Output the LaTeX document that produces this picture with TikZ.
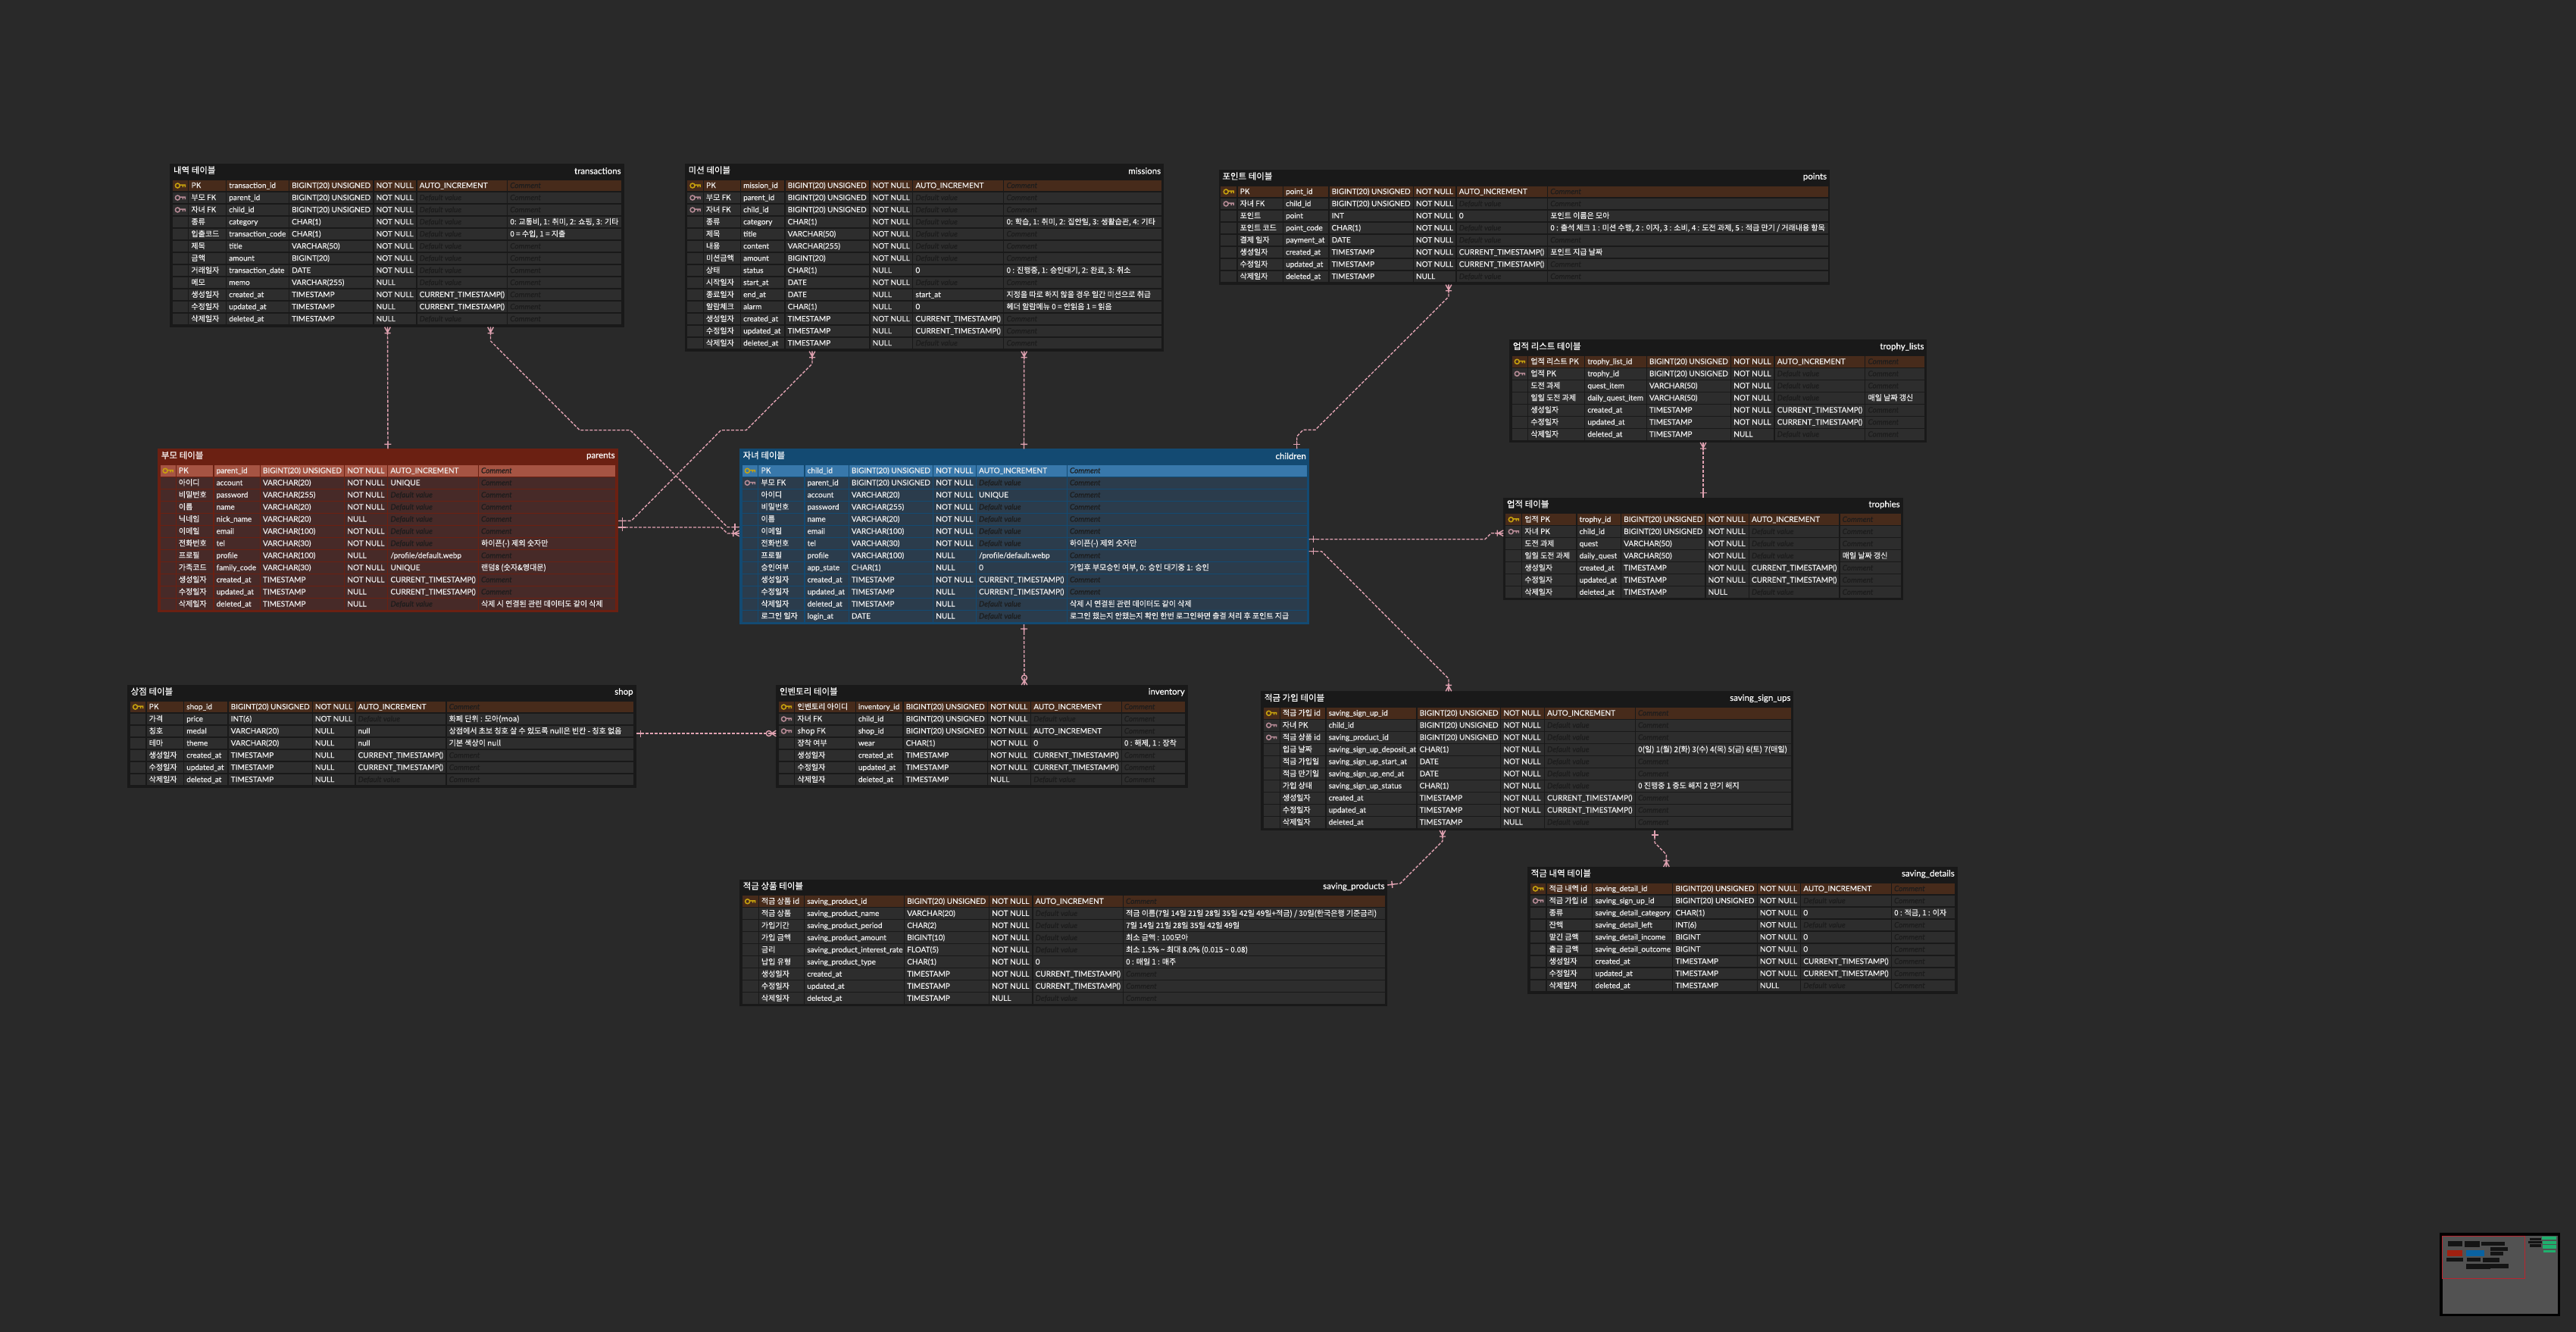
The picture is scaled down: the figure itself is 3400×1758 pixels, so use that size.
\documentclass[tikz,border=0pt]{standalone}
\usepackage{fontspec}
\setmainfont[FakeBold=0.3]{Lato}
\newfontfamily\cjk[FakeBold=0.3]{Noto Sans CJK KR}
\usetikzlibrary{decorations.markings}

\definecolor{bgcol}{HTML}{292929}
\definecolor{darkout}{HTML}{191919}
\definecolor{darkpk}{HTML}{472B1B}
\definecolor{darkrow}{HTML}{2D2D2D}
\definecolor{redout}{HTML}{6B2012}
\definecolor{redpk}{HTML}{A65443}
\definecolor{redrow}{HTML}{472A28}
\definecolor{blueout}{HTML}{134A72}
\definecolor{bluepk}{HTML}{3878AB}
\definecolor{bluerow}{HTML}{2B3C4C}
\definecolor{holdcol}{HTML}{1C1C1C}
\definecolor{textcol}{HTML}{F0F0F0}
\definecolor{relpink}{HTML}{E0A2B1}
\definecolor{pkgold}{HTML}{C9A30D}
\definecolor{fkpink}{HTML}{B88C97}
\definecolor{mapred}{HTML}{A02010}
\definecolor{mapblue}{HTML}{0A62A0}
\definecolor{mapgreen}{HTML}{1FB06E}
\definecolor{mapframe}{HTML}{B8252F}
\definecolor{mapblock}{HTML}{141414}

\newcommand{\crowmark}{\draw[solid,relpink] (0,-3.8) -- (7,0) -- (0,3.8) (0,0) -- (11,0) (8,-4) -- (8,4);}
\newcommand{\optmark}{\draw[solid,relpink] (0,-3.8) -- (6,0) -- (0,3.8) (0,0) -- (6,0) (9.5,0) circle (3.5);}
\newcommand{\barmark}{\draw[solid,relpink] (-10,0) -- (0,0) (-6,-4.5) -- (-6,4.5);}

\tikzset{
  relline/.style={draw=relpink,line width=1.4pt,dash pattern=on 4pt off 2pt},
  rel/.style={relline,postaction={decorate,decoration={markings,
    mark=at position 0pt with {\crowmark},mark=at position 1 with {\barmark}}}},
  relopt/.style={relline,postaction={decorate,decoration={markings,
    mark=at position 0pt with {\optmark},mark=at position 1 with {\barmark}}}},
  tablebox/.style={rectangle,inner sep=0pt,outer sep=0pt,anchor=north west},
  celltext/.style={anchor=base west,inner sep=0pt,text=textcol,font=\fontsize{10}{12}\selectfont},
  krtext/.style={celltext,font=\fontsize{10}{12}\selectfont\cjk},
  holdertext/.style={celltext,text=holdcol,font=\fontsize{10}{12}\selectfont\itshape},
  titletext/.style={inner sep=0pt,text=white,font=\fontsize{11.5}{14}\selectfont}
}

\newcommand{\keyicon}[3]{%
  \draw[#3,line width=1.5pt] (#1-3.5,#2) circle (3)
    (#1-0.5,#2-0.8) -- (#1+6.5,#2-0.8) -- (#1+6.5,#2+2) (#1+3.5,#2-0.8) -- (#1+3.5,#2+2);}

\catcode`\_=12
\def\nodash{-}
\def\keyp{p}
\def\keyf{f}
\newcommand{\bigu}{BIGINT(20) UNSIGNED}
\newcommand{\nn}{NOT NULL}
\newcommand{\ts}{TIMESTAMP}
\newcommand{\cts}{CURRENT_TIMESTAMP()}
\newcommand{\ai}{AUTO_INCREMENT}

% id, colours, title, x0/y0/x1/rows, column edges, rows
\newcommand{\ertable}[6]{%
  \colorlet{outcol}{#2out}\colorlet{pkcol}{#2pk}\colorlet{rowcol}{#2row}
  \foreach \xo/\yo/\xe/\nrows in {#4} {
    \pgfmathsetmacro\tbw{\xe-\xo}
    \pgfmathsetmacro\tbh{23.7+16*\nrows}
    \node[tablebox,fill=outcol,minimum width=\tbw pt,minimum height=\tbh pt] (#1) at (\xo,\yo) {};
    \node[titletext,anchor=west,font=\fontsize{11.5}{14}\selectfont\cjk] (#1-title) at (\xo+4.5,\yo+8.5) {#3};
    \node[titletext,anchor=east] (#1-name) at (\xe-3.7,\yo+9.5) {#1};
    \foreach \xa/\xb/\xc/\xd/\xf/\xg/\xh/\xi in {#5} {
      \pgfmathsetmacro\keyx{(\xa+\xb)/2}
      \foreach \colkey/\colkr/\colen/\coltype/\colnull/\coldef/\colcom [count=\rowno] in {#6} {
        \pgfmathsetmacro\yr{\yo+5.7+16*\rowno}
        \ifnum\rowno=1 \colorlet{cellcol}{pkcol}\else \colorlet{cellcol}{rowcol}\fi
        \foreach \xl/\xr in {\xa/\xb,\xb/\xc,\xc/\xd,\xd/\xf,\xf/\xg,\xg/\xh,\xh/\xi}
          \fill[cellcol] (\xl+0.65,\yr) rectangle (\xr-0.65,\yr+14.7);
        \ifx\colkey\keyp \keyicon{\keyx}{\yr+7.3}{pkgold}\fi
        \ifx\colkey\keyf \keyicon{\keyx}{\yr+7.3}{fkpink}\fi
        \node[krtext] (#1-\rowno-kr) at (\xb+3.5,\yr+10.5) {\colkr};
        \node[celltext] (#1-\rowno-en) at (\xc+3.5,\yr+10.5) {\colen};
        \node[celltext] (#1-\rowno-type) at (\xd+3.5,\yr+10.5) {\coltype};
        \node[celltext] (#1-\rowno-null) at (\xf+3.5,\yr+10.5) {\colnull};
        \ifx\coldef\nodash
          \node[holdertext] (#1-\rowno-def) at (\xg+3.5,\yr+10.5) {Default value};
        \else
          \node[celltext] (#1-\rowno-def) at (\xg+3.5,\yr+10.5) {\coldef};
        \fi
        \ifx\colcom\nodash
          \node[holdertext] (#1-\rowno-com) at (\xh+3.5,\yr+10.5) {Comment};
        \else
          \node[krtext] (#1-\rowno-com) at (\xh+3.5,\yr+10.5) {\colcom};
        \fi
      }
    }
  }
}

\begin{document}
\begin{tikzpicture}[x=1pt,y=-1pt]
\useasboundingbox[fill=bgcol] (0,0) rectangle (3400,1758);

\ertable{transactions}{dark}{내역 테이블}{224.3/216/823.5/12}
  {227/248.8/298.6/381.4/492.9/550/669.6/821}
  {p/PK/transaction_id/\bigu/\nn/\ai/-,
   f/부모 FK/parent_id/\bigu/\nn/-/-,
   f/자녀 FK/child_id/\bigu/\nn/-/-,
   n/종류/category/CHAR(1)/\nn/-/{0: 교통비, 1: 취미, 2: 쇼핑, 3: 기타},
   n/입출코드/transaction_code/CHAR(1)/\nn/-/{0 = 수입, 1 = 지출},
   n/제목/title/VARCHAR(50)/\nn/-/-,
   n/금액/amount/BIGINT(20)/\nn/-/-,
   n/거래일자/transaction_date/DATE/\nn/-/-,
   n/메모/memo/VARCHAR(255)/NULL/-/-,
   n/생성일자/created_at/\ts/\nn/\cts/-,
   n/수정일자/updated_at/\ts/NULL/\cts/-,
   n/삭제일자/deleted_at/\ts/NULL/-/-}

\ertable{missions}{dark}{미션 테이블}{903.9/216/1536/14}
  {906.8/928.3/977.5/1036/1148/1204.8/1324.8/1534}
  {p/PK/mission_id/\bigu/\nn/\ai/-,
   f/부모 FK/parent_id/\bigu/\nn/-/-,
   f/자녀 FK/child_id/\bigu/\nn/-/-,
   n/종류/category/CHAR(1)/\nn/-/{0: 학습, 1: 취미, 2: 집안일, 3: 생활습관, 4: 기타},
   n/제목/title/VARCHAR(50)/\nn/-/-,
   n/내용/content/VARCHAR(255)/\nn/-/-,
   n/미션금액/amount/BIGINT(20)/\nn/-/-,
   n/상태/status/CHAR(1)/NULL/0/{0 : 진행중, 1: 승인대기, 2: 완료, 3: 취소},
   n/시작일자/start_at/DATE/\nn/-/-,
   n/종료일자/end_at/DATE/NULL/start_at/지정을 따로 하지 않을 경우 일간 미션으로 취급,
   n/알람체크/alarm/CHAR(1)/NULL/0/헤더 알람메뉴 0 = 안읽음 1 = 읽음,
   n/생성일자/created_at/\ts/\nn/\cts/-,
   n/수정일자/updated_at/\ts/NULL/\cts/-,
   n/삭제일자/deleted_at/\ts/NULL/-/-}

\ertable{points}{dark}{포인트 테이블}{1608.7/224/2414.9/8}
  {1610.4/1632.9/1693.4/1753.9/1865.3/1922.1/2042.6/2413.2}
  {p/PK/point_id/\bigu/\nn/\ai/-,
   f/자녀 FK/child_id/\bigu/\nn/-/-,
   n/포인트/point/INT/\nn/0/포인트 이름은 모아,
   n/포인트 코드/point_code/CHAR(1)/\nn/-/{0 : 출석 체크 1 : 미션 수행, 2 : 이자, 3 : 소비, 4 : 도전 과제, 5 : 적금 만기 / 거래내용 항목},
   n/결제 일자/payment_at/DATE/\nn/-/-,
   n/생성일자/created_at/\ts/\nn/\cts/포인트 지급 날짜,
   n/수정일자/updated_at/\ts/\nn/\cts/-,
   n/삭제일자/deleted_at/\ts/NULL/-/-}

\ertable{trophy_lists}{dark}{업적 리스트 테이블}{1992.2/448.3/2543.3/7}
  {1994.9/2016.7/2091.7/2173.2/2284.6/2342/2461.8/2541}
  {p/업적 리스트 PK/trophy_list_id/\bigu/\nn/\ai/-,
   f/업적 PK/trophy_id/\bigu/\nn/-/-,
   n/도전 과제/quest_item/VARCHAR(50)/\nn/-/-,
   n/일일 도전 과제/daily_quest_item/VARCHAR(50)/\nn/-/매일 날짜 갱신,
   n/생성일자/created_at/\ts/\nn/\cts/-,
   n/수정일자/updated_at/\ts/\nn/\cts/-,
   n/삭제일자/deleted_at/\ts/NULL/-/-}

\ertable{trophies}{dark}{업적 테이블}{1984.2/656.7/2511.5/7}
  {1986.8/2008.7/2081/2139.5/2250.9/2308.3/2428/2509.2}
  {p/업적 PK/trophy_id/\bigu/\nn/\ai/-,
   f/자녀 PK/child_id/\bigu/\nn/-/-,
   n/도전 과제/quest/VARCHAR(50)/\nn/-/-,
   n/일일 도전 과제/daily_quest/VARCHAR(50)/\nn/-/매일 날짜 갱신,
   n/생성일자/created_at/\ts/\nn/\cts/-,
   n/수정일자/updated_at/\ts/\nn/\cts/-,
   n/삭제일자/deleted_at/\ts/NULL/-/-}

\ertable{parents}{red}{부모 테이블}{208.2/592.3/815.5/12}
  {211/232.2/282/343.3/454.7/511.8/631.4/813}
  {p/PK/parent_id/\bigu/\nn/\ai/-,
   n/아이디/account/VARCHAR(20)/\nn/UNIQUE/-,
   n/비밀번호/password/VARCHAR(255)/\nn/-/-,
   n/이름/name/VARCHAR(20)/\nn/-/-,
   n/닉네임/nick_name/VARCHAR(20)/NULL/-/-,
   n/이메일/email/VARCHAR(100)/\nn/-/-,
   n/전화번호/tel/VARCHAR(30)/\nn/-/하이픈(-) 제외 숫자만,
   n/프로필/profile/VARCHAR(100)/NULL/{/profile/default.webp}/-,
   n/가족코드/family_code/VARCHAR(30)/\nn/UNIQUE/랜덤8 (숫자\&영대문),
   n/생성일자/created_at/\ts/\nn/\cts/-,
   n/수정일자/updated_at/\ts/NULL/\cts/-,
   n/삭제일자/deleted_at/\ts/NULL/-/삭제 시 연결된 관련 데이터도 같이 삭제}

\ertable{children}{blue}{자녀 테이블}{975.9/592.3/1727.7/13}
  {978.9/1000.8/1062/1120.2/1231.6/1288.4/1408.3/1725.2}
  {p/PK/child_id/\bigu/\nn/\ai/-,
   f/부모 FK/parent_id/\bigu/\nn/-/-,
   n/아이디/account/VARCHAR(20)/\nn/UNIQUE/-,
   n/비밀번호/password/VARCHAR(255)/\nn/-/-,
   n/이름/name/VARCHAR(20)/\nn/-/-,
   n/이메일/email/VARCHAR(100)/\nn/-/-,
   n/전화번호/tel/VARCHAR(30)/\nn/-/하이픈(-) 제외 숫자만,
   n/프로필/profile/VARCHAR(100)/NULL/{/profile/default.webp}/-,
   n/승인여부/app_state/CHAR(1)/NULL/0/{가입후 부모승인 여부, 0: 승인 대기중 1: 승인},
   n/생성일자/created_at/\ts/\nn/\cts/-,
   n/수정일자/updated_at/\ts/NULL/\cts/-,
   n/삭제일자/deleted_at/\ts/NULL/-/삭제 시 연결된 관련 데이터도 같이 삭제,
   n/로그인 일자/login_at/DATE/NULL/-/로그인 했는지 안했는지 확인 한번 로그인하면 출결 처리 후 포인트 지급}

\ertable{shop}{dark}{상점 테이블}{168/904/839.5/7}
  {171.2/193/242.6/301/412.2/468.9/589/836.8}
  {p/PK/shop_id/\bigu/\nn/\ai/-,
   n/가격/price/INT(6)/\nn/-/화폐 단위 : 모아(moa),
   n/칭호/medal/VARCHAR(20)/NULL/null/상점에서 초보 칭호 살 수 있도록 null은 빈칸 - 칭호 없음,
   n/테마/theme/VARCHAR(20)/NULL/null/기본 색상이 null,
   n/생성일자/created_at/\ts/NULL/\cts/-,
   n/수정일자/updated_at/\ts/NULL/\cts/-,
   n/삭제일자/deleted_at/\ts/NULL/-/-}

\ertable{inventory}{dark}{인벤토리 테이블}{1024.3/904/1567.6/7}
  {1027.1/1048.8/1129.2/1192/1303.5/1360.6/1480.2/1565.1}
  {p/인벤토리 아이디/inventory_id/\bigu/\nn/\ai/-,
   f/자녀 FK/child_id/\bigu/\nn/-/-,
   f/shop FK/shop_id/\bigu/\nn/\ai/-,
   n/장착 여부/wear/CHAR(1)/\nn/0/{0 : 해제, 1 : 장착},
   n/생성일자/created_at/\ts/\nn/\cts/-,
   n/수정일자/updated_at/\ts/\nn/\cts/-,
   n/삭제일자/deleted_at/\ts/NULL/-/-}

\ertable{saving_sign_ups}{dark}{적금 가입 테이블}{1664.2/912.3/2367.3/10}
  {1667/1689.2/1750/1869.9/1980.8/2038.4/2158.3/2365}
  {p/적금 가입 id/saving_sign_up_id/\bigu/\nn/\ai/-,
   f/자녀 PK/child_id/\bigu/\nn/-/-,
   f/적금 상품 id/saving_product_id/\bigu/\nn/-/-,
   n/입금 날짜/saving_sign_up_deposit_at/CHAR(1)/\nn/-/0(일) 1(월) 2(화) 3(수) 4(목) 5(금) 6(토) 7(매일),
   n/적금 가입일/saving_sign_up_start_at/DATE/\nn/-/-,
   n/적금 만기일/saving_sign_up_end_at/DATE/\nn/-/-,
   n/가입 상태/saving_sign_up_status/CHAR(1)/\nn/-/0 진행중 1 중도 해지 2 만기 해지,
   n/생성일자/created_at/\ts/\nn/\cts/-,
   n/수정일자/updated_at/\ts/\nn/\cts/-,
   n/삭제일자/deleted_at/\ts/NULL/-/-}

\ertable{saving_products}{dark}{적금 상품 테이블}{976.1/1160.7/1831.4/9}
  {978.9/1001.3/1061.6/1193.6/1305.6/1363/1482.4/1828.5}
  {p/적금 상품 id/saving_product_id/\bigu/\nn/\ai/-,
   n/적금 상품/saving_product_name/VARCHAR(20)/\nn/-/{적금 이름(7일 14일 21일 28일 35일 42일 49일+적금) / 30일(한국은행 기준금리)},
   n/가입기간/saving_product_period/CHAR(2)/\nn/-/7일 14일 21일 28일 35일 42일 49일,
   n/가입 금액/saving_product_amount/BIGINT(10)/\nn/-/최소 금액 : 100모아,
   n/금리/saving_product_interest_rate/FLOAT(5)/\nn/-/최소 1.5\% \textasciitilde{} 최대 8.0\% (0.015 \textasciitilde{} 0.08),
   n/납입 유형/saving_product_type/CHAR(1)/\nn/0/0 : 매일 1 : 매주,
   n/생성일자/created_at/\ts/\nn/\cts/-,
   n/수정일자/updated_at/\ts/\nn/\cts/-,
   n/삭제일자/deleted_at/\ts/NULL/-/-}

\ertable{saving_details}{dark}{적금 내역 테이블}{2016.1/1144/2583.6/9}
  {2019.1/2041/2101.8/2207.8/2319.2/2376.6/2496.4/2581}
  {p/적금 내역 id/saving_detail_id/\bigu/\nn/\ai/-,
   f/적금 가입 id/saving_sign_up_id/\bigu/\nn/-/-,
   n/종류/saving_detail_category/CHAR(1)/\nn/0/{0 : 적금, 1 : 이자},
   n/잔액/saving_detail_left/INT(6)/\nn/-/-,
   n/맡긴 금액/saving_detail_income/BIGINT/\nn/0/-,
   n/출금 금액/saving_detail_outcome/BIGINT/\nn/0/-,
   n/생성일자/created_at/\ts/\nn/\cts/-,
   n/수정일자/updated_at/\ts/\nn/\cts/-,
   n/삭제일자/deleted_at/\ts/NULL/-/-}

\draw[rel] ([xshift=287.2pt]transactions.south west) -- ([xshift=303.8pt]parents.north west);
\draw[rel] ([xshift=423.2pt]transactions.south west) -- (647.5,450) -- (765,567.7) -- (831.7,567.7)
    -- (960,695.7) -- ([yshift=-103.4pt]children.north west);
\draw[rel] ([xshift=168.1pt]missions.south west) -- (1072,480) -- (985,567.7) -- (951.7,567.7)
    -- (833.3,687.3) -- ([yshift=-95pt]parents.north east);
\draw[rel] ([xshift=447.8pt]missions.south west) -- ([xshift=375.6pt]children.north west);
\draw[rel] ([xshift=303.3pt]points.south west) -- (1912,391.7) -- (1736,567.3) -- (1720,567.3)
    -- (1711.7,576) -- ([xshift=735.8pt]children.north west);
\draw[rel] ([yshift=-111.7pt]children.north west) -- (960,704) -- (951.7,696)
    -- ([yshift=-103.7pt]parents.north east);
\draw[rel] ([xshift=255.8pt]trophy_lists.south west) -- ([xshift=263.8pt]trophies.north west);
\draw[rel] ([yshift=-47pt]trophies.north west) -- (1968.3,703.7) -- (1960,711.7)
    -- ([yshift=-119.4pt]children.north east);
\draw[rel] ([xshift=247.8pt]saving_sign_ups.north west) -- (1912,895.7) -- (1744.3,727.7)
    -- ([yshift=-135.4pt]children.north east);
\draw[relopt] ([xshift=327.7pt]inventory.north west) -- ([xshift=375.6pt]children.south west);
\draw[relopt] ([yshift=-64pt]inventory.north west) -- ([yshift=-64pt]shop.north east);
\draw[rel] ([xshift=239.8pt]saving_sign_ups.south west) -- (1904,1110) -- (1848,1166)
    -- ([yshift=-7.3pt]saving_products.north east);
\draw[rel] ([xshift=183.3pt]saving_details.north west) -- (2199.4,1128) -- (2184,1112)
    -- ([xshift=519.8pt]saving_sign_ups.south west);

\begin{scope}[shift={(3200,1610)},x=0.3333pt,y=-0.3333pt]
  \fill[black] (60,52) rectangle (538,382);
  \fill[black!68!white] (72,64) rectangle (528,372);
  \foreach \xa/\ya/\xb/\yb in {92/84/150/106,158/84/218/108,225/86/317/101,262/107/329/122,
      261/127/311/140,87/151/152/164,169/150/222/164,230/151/297/169,164/175/261/194,
      262/174/333/192,416/71/462/80,412/83/465/94,417/97/462/109}
    \fill[mapblock] (\xa,\ya) rectangle (\xb,\yb);
  \fill[mapred] (91,120) rectangle (150,143);
  \fill[mapblue] (165,120) rectangle (237,144);
  \foreach \xa/\ya/\xb/\yb in {466/67/523/77,469/83/522/95,469/100/522/113,470/119/519/129}
    \fill[mapgreen] (\xa,\ya) rectangle (\xb,\yb);
  \draw[mapframe,line width=1.6pt] (70,64) rectangle (398,232);
\end{scope}
\end{tikzpicture}
\end{document}
